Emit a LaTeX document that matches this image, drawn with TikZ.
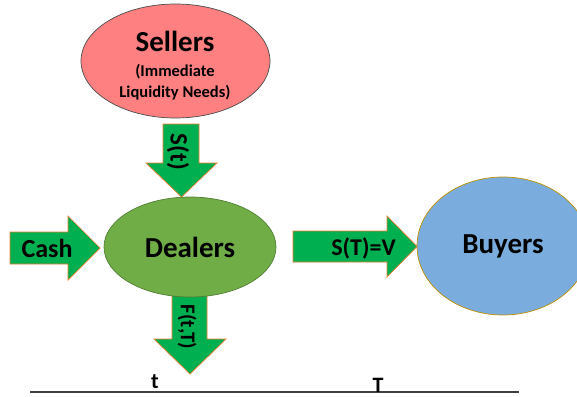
\documentclass[tikz,border=0pt]{standalone}
\usepackage{fontspec}
\setmainfont{Carlito}
\usepackage{tikz}
\usetikzlibrary{shapes.geometric}

\definecolor{sellerred}{HTML}{FF8080}
\definecolor{dealergreen}{HTML}{70AD47}
\definecolor{dealerline}{HTML}{507E32}
\definecolor{buyerblue}{HTML}{7AADDD}
\definecolor{buyerline}{HTML}{BF9000}
\definecolor{flowgreen}{HTML}{00B050}
\definecolor{floworange}{HTML}{ED7D31}

\newcommand{\bigtxt}{\bfseries\fontsize{29}{33}\selectfont}
\newcommand{\notetxt}{\bfseries\fontsize{16.5}{21}\selectfont}

\begin{document}
\begin{tikzpicture}[x=1pt,y=-1pt,
    party/.style={ellipse,inner sep=0pt,outer sep=0pt,line width=0.7pt,font=\bigtxt},
    flowarrow/.style={fill=flowgreen,draw=floworange,line width=0.7pt}]
    \clip (0,0) rectangle (577,396);

    \draw[flowarrow] (163,124) -- (199,124) -- (199,163) -- (217,163) -- (181.5,197) -- (146,163) -- (163,163) -- cycle;
    \draw[flowarrow] (10,232) -- (68,232) -- (68,216) -- (100,248) -- (68,280) -- (68,264) -- (10,264) -- cycle;
    \draw[flowarrow] (293,231) -- (387,231) -- (387,216) -- (417,246.5) -- (387,277) -- (387,262) -- (293,262) -- cycle;
    \draw[flowarrow] (172,292) -- (207,292) -- (207,339) -- (226,339) -- (190,374) -- (154,339) -- (172,339) -- cycle;

    \node[party,fill=sellerred,draw=black!70,minimum width=189pt,minimum height=114pt] (sellers) at (175.5,61) {};
    \node[font=\bigtxt,anchor=base] (sellername) at (175,52) {Sellers};
    \node[font=\notetxt,anchor=base] (sellernote1) at (175,76) {(Immediate};
    \node[font=\notetxt,anchor=base] (sellernote2) at (175,97) {Liquidity Needs)};

    \node[party,fill=dealergreen,draw=dealerline,minimum width=172pt,minimum height=100pt] (dealers) at (190,247) {Dealers};

    \node[party,fill=buyerblue,draw=buyerline,minimum width=172pt,minimum height=138pt] (buyers) at (503,246) {Buyers};

    \node[font=\bfseries\fontsize{25}{30}\selectfont,rotate=-90] (selllbl) at (178,152) {S(t)};
    \node[font=\bfseries\fontsize{26}{30}\selectfont] (cashlbl) at (47,248) {Cash};
    \node[font=\bfseries\fontsize{24}{28}\selectfont] (buylbl) at (363.5,248) {S(T)=V};
    \node[font=\bfseries\fontsize{21}{25}\selectfont,rotate=-90] (fwdlbl) at (187,327) {F(t,T)};

    \coordinate (axisstart) at (30,392);
    \coordinate (axisend) at (519,392);
    \draw[black!75,line width=1.2pt] (axisstart) -- (axisend);

    \node[font=\bfseries\fontsize{22}{26}\selectfont,anchor=base,inner sep=0pt] (nowlbl) at (155,388) {t};
    \node[font=\bfseries\fontsize{22}{26}\selectfont,anchor=base,inner sep=0pt] (matlbl) at (378,392) {T};
\end{tikzpicture}
\end{document}
